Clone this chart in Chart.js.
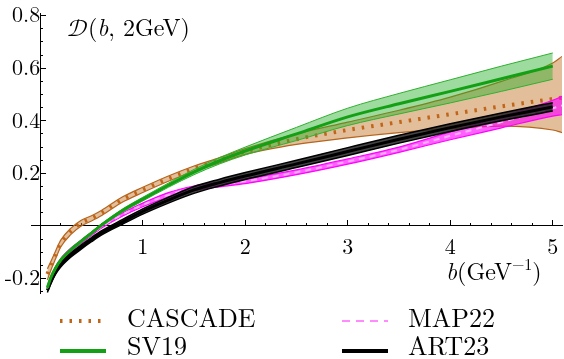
<!DOCTYPE html>
<html>
<head>
<meta charset="utf-8">
<script src="https://cdn.jsdelivr.net/npm/chart.js@4/dist/chart.umd.min.js"></script>
<style>html,body{margin:0;padding:0;background:#fff}</style>
</head>
<body>
<canvas id="myChart" width="564" height="359"></canvas>
<script>
// b values (GeV^-1)
var bGrid = [0.07, 0.1, 0.15, 0.2, 0.3, 0.4, 0.5, 0.6, 0.8, 1.0, 1.25, 1.5, 1.75, 2.0, 2.5, 3.0, 3.5, 4.0, 4.5, 5.0, 5.09];

var cascadeMid = [-0.183, -0.155, -0.11, -0.067, -0.02, 0.011, 0.029, 0.05, 0.1, 0.137, 0.18, 0.218, 0.25, 0.283, 0.33, 0.365, 0.395, 0.425, 0.455, 0.483, 0.488];
var cascadeLo = [-0.205, -0.172, -0.125, -0.08, -0.032, 0.0, 0.019, 0.04, 0.09, 0.127, 0.17, 0.208, 0.24, 0.272, 0.31, 0.335, 0.355, 0.37, 0.38, 0.365, 0.355];
var cascadeHi = [-0.163, -0.138, -0.095, -0.054, -0.008, 0.022, 0.039, 0.06, 0.11, 0.147, 0.19, 0.228, 0.26, 0.294, 0.35, 0.395, 0.44, 0.49, 0.55, 0.62, 0.645];

var sv19Mid = [-0.235, -0.2, -0.16, -0.13, -0.09, -0.058, -0.027, 0.004, 0.058, 0.102, 0.155, 0.205, 0.248, 0.285, 0.35, 0.415, 0.465, 0.512, 0.56, 0.608, null];
var sv19Lo = [-0.24, -0.205, -0.165, -0.135, -0.095, -0.063, -0.032, -0.001, 0.052, 0.095, 0.147, 0.195, 0.236, 0.27, 0.325, 0.382, 0.426, 0.468, 0.512, 0.558, null];
var sv19Hi = [-0.23, -0.195, -0.155, -0.125, -0.085, -0.053, -0.022, 0.009, 0.064, 0.109, 0.163, 0.215, 0.26, 0.3, 0.375, 0.448, 0.504, 0.556, 0.608, 0.658, null];

var map22Mid = [-0.235, -0.2, -0.16, -0.13, -0.09, -0.06, -0.03, -0.002, 0.043, 0.08, 0.118, 0.143, 0.158, 0.17, 0.204, 0.245, 0.29, 0.343, 0.395, 0.448, 0.458];
var map22Lo = [-0.241, -0.206, -0.166, -0.136, -0.096, -0.066, -0.036, -0.008, 0.037, 0.073, 0.109, 0.134, 0.149, 0.161, 0.195, 0.235, 0.28, 0.328, 0.373, 0.418, 0.423];
var map22Hi = [-0.229, -0.194, -0.154, -0.124, -0.084, -0.054, -0.024, 0.004, 0.049, 0.087, 0.127, 0.152, 0.167, 0.179, 0.213, 0.255, 0.3, 0.358, 0.417, 0.478, 0.493];

var art23Mid = [-0.245, -0.215, -0.175, -0.148, -0.11, -0.08, -0.052, -0.026, 0.015, 0.055, 0.098, 0.137, 0.165, 0.19, 0.236, 0.283, 0.33, 0.374, 0.415, 0.453, null];
var art23Lo = [-0.253, -0.223, -0.183, -0.156, -0.118, -0.088, -0.06, -0.034, 0.006, 0.045, 0.087, 0.124, 0.152, 0.177, 0.222, 0.268, 0.315, 0.359, 0.4, 0.437, null];
var art23Hi = [-0.237, -0.207, -0.167, -0.14, -0.102, -0.072, -0.044, -0.018, 0.024, 0.065, 0.109, 0.15, 0.178, 0.203, 0.25, 0.298, 0.345, 0.389, 0.43, 0.469, null];

// axis ticks
var xMajor = [1, 2, 3, 4, 5];
var xMinor = [0.2, 0.4, 0.6, 0.8, 1.2, 1.4, 1.6, 1.8, 2.2, 2.4, 2.6, 2.8, 3.2, 3.4, 3.6, 3.8, 4.2, 4.4, 4.6, 4.8];
var yMajor = [-0.2, 0.2, 0.4, 0.6, 0.8];
var yMinor = [-0.25, -0.15, -0.1, -0.05, 0.05, 0.1, 0.15, 0.25, 0.3, 0.35, 0.45, 0.5, 0.55, 0.65, 0.7, 0.75];

var serif = "'Latin Modern Roman', 'Liberation Serif', serif";
var calig = "'Latin Modern Math', 'STIX Two Math', serif";

function pts(ys) {
  return bGrid.map(function (b, i) { return {x: b, y: ys[i]}; });
}
function band(lo, hi, fillCol, edgeCol, edgeW) {
  return [
    {label: '', data: pts(hi), fill: '+1', backgroundColor: fillCol, borderColor: edgeCol, borderWidth: edgeW},
    {label: '', data: pts(lo), fill: false, borderColor: edgeCol, borderWidth: edgeW}
  ];
}

var datasets = [].concat(
  band(cascadeLo, cascadeHi, 'rgba(200,125,55,0.5)', '#b5651d', 1.2),
  [{label: 'CASCADE', data: pts(cascadeMid), fill: false, borderColor: '#c0661a', borderWidth: 4, borderDash: [2.5, 7], legendAt: [0, 0]}],
  band(map22Lo, map22Hi, 'rgba(255,0,255,0.62)', '#ff00ff', 1.2),
  [{label: 'MAP22', data: pts(map22Mid), fill: false, borderColor: '#ffb0ff', borderWidth: 2, borderDash: [6, 5], legendAt: [1, 0], legendColor: '#ff66ff', legendWidth: 1.5, legendDash: [8, 6]}],
  band(art23Lo, art23Hi, 'rgba(35,35,35,0.85)', '#000000', 1.5),
  [{label: 'ART23', data: pts(art23Mid), fill: false, borderColor: '#000000', borderWidth: 3, legendAt: [1, 1], legendWidth: 4}],
  band(sv19Lo, sv19Hi, 'rgba(40,175,40,0.45)', '#2fb02f', 1),
  [{label: 'SV19', data: pts(sv19Mid), fill: false, borderColor: '#14a014', borderWidth: 3, legendAt: [0, 1], legendWidth: 4}]
);
datasets.forEach(function (d, i) {
  d.order = datasets.length - i;
  d.pointRadius = 0;
  d.cubicInterpolationMode = 'monotone';
  d.borderCapStyle = 'butt';
});

function noPad(s) { s.paddingLeft = 0; s.paddingRight = 0; s.paddingTop = 0; s.paddingBottom = 0; }
function setTicks(list) { return function (s) { s.ticks = list.map(function (v) { return {value: v}; }); }; }

function axis(kind, list, major) {
  return {
    type: 'linear',
    axis: kind,
    min: kind === 'x' ? -0.09 : -0.255,
    max: kind === 'x' ? 5.09 : 0.81,
    position: kind === 'x' ? {y: 0} : {x: 0},
    afterBuildTicks: setTicks(list),
    afterFit: noPad,
    grid: {drawOnChartArea: false, color: '#000', tickLength: major ? -6 : -3, tickWidth: 1},
    border: {color: '#000', width: 1, display: major},
    ticks: {display: major, autoSkip: false, maxRotation: 0, color: '#000', padding: kind === 'x' ? 14 : 12,
      font: {family: serif, size: 22},
      callback: function (v) { return kind === 'x' ? String(v) : v.toFixed(1); }}
  };
}

// title, axis label and legend
function drawRuns(c, x, y, runs) {
  runs.forEach(function (r) {
    c.font = r[1];
    c.fillText(r[0], x, y + (r[2] || 0));
    x += c.measureText(r[0]).width;
  });
}
var textPlugin = {
  id: 'texts',
  afterDraw: function (chart) {
    var c = chart.ctx;
    c.save();
    c.fillStyle = '#000';
    c.textBaseline = 'alphabetic';
    c.textAlign = 'left';
    drawRuns(c, 67, 36, [['\u{1D49F}', '24px ' + calig], ['(', '24px ' + serif], ['b', 'italic 24px ' + serif], [', 2GeV)', '24px ' + serif]]);
    drawRuns(c, 446, 280, [['b', 'italic 24px ' + serif], ['(GeV', '24px ' + serif], ['\u22121', '16px ' + serif, -10], [')', '24px ' + serif]]);

    var colX = [60, 342], textX = [127, 408], lineY = [321, 351], textY = [327, 355];
    chart.data.datasets.forEach(function (d) {
      if (!d.legendAt) return;
      var col = d.legendAt[0], row = d.legendAt[1];
      c.beginPath();
      c.strokeStyle = d.legendColor || d.borderColor;
      c.lineWidth = d.legendWidth || d.borderWidth;
      c.setLineDash(d.legendDash || d.borderDash || []);
      c.moveTo(colX[col], lineY[row]);
      c.lineTo(colX[col] + 46, lineY[row]);
      c.stroke();
      c.setLineDash([]);
      c.font = '26px ' + serif;
      c.fillText(d.label, textX[col], textY[row]);
    });
    c.restore();
  }
};

var ctx = document.getElementById('myChart');
var myChart = new Chart(ctx, {
  type: 'line',
  data: {datasets: datasets},
  options: {
    responsive: false,
    animation: false,
    layout: {padding: {left: 31, right: 0, top: 13, bottom: 66}},
    plugins: {legend: {display: false}, tooltip: {enabled: false}},
    scales: {
      x: axis('x', xMajor, true),
      x2: axis('x', xMinor, false),
      y: axis('y', yMajor, true),
      y2: axis('y', yMinor, false)
    }
  },
  plugins: [textPlugin]
});
if (document.fonts) {
  document.fonts.ready.then(function () { myChart.update(); });
}
</script>
</body>
</html>
